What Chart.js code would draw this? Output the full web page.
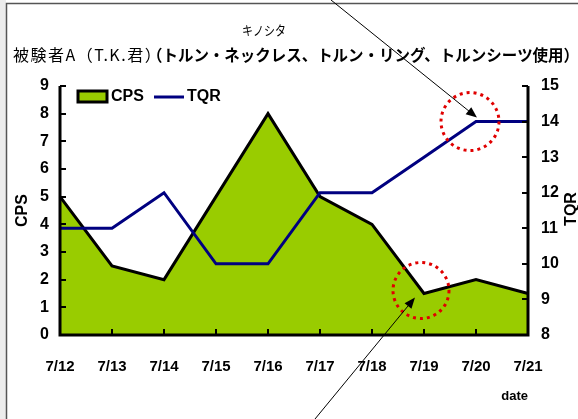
<!DOCTYPE html>
<html>
<head>
<meta charset="utf-8">
<script src="https://cdn.jsdelivr.net/npm/chart.js@4"></script>
<style>
  html, body { margin: 0; padding: 0; background: #fff; overflow: hidden; }
  #wrap { width: 578px; height: 419px; }
</style>
</head>
<body>
<div id="wrap"><canvas id="chart" width="578" height="419"></canvas></div>
<script>
// Data
const dates = ['7/12', '7/13', '7/14', '7/15', '7/16', '7/17', '7/18', '7/19', '7/20', '7/21'];
const cpsValues = [5, 2.5, 2, 5, 8, 5, 4, 1.5, 2, 1.5];
const tqrValues = [11, 11, 12, 10, 10, 12, 12, 13, 14, 14];

const titleTop = 'キノシタ';
const titleMain = '被験者A（T.K.君）';
const titleBold = '（トルン・ネックレス、トルン・リング、トルンシーツ使用）';

const JP = '"Noto Sans CJK JP", "Liberation Sans", sans-serif';
const LAT = '"Liberation Sans", Arial, sans-serif';

function arrow(ctx, x1, y1, x2, y2) {
    const a = Math.atan2(y2 - y1, x2 - x1);
    const len = 11, half = 4.5;
    ctx.save();
    ctx.strokeStyle = '#000';
    ctx.fillStyle = '#000';
    ctx.lineWidth = 1;
    ctx.beginPath();
    ctx.moveTo(x1, y1);
    ctx.lineTo(x2 - Math.cos(a) * len * 0.8, y2 - Math.sin(a) * len * 0.8);
    ctx.stroke();
    ctx.beginPath();
    ctx.moveTo(x2, y2);
    ctx.lineTo(x2 - Math.cos(a) * len - Math.sin(a) * half, y2 - Math.sin(a) * len + Math.cos(a) * half);
    ctx.lineTo(x2 - Math.cos(a) * len + Math.sin(a) * half, y2 - Math.sin(a) * len - Math.cos(a) * half);
    ctx.closePath();
    ctx.fill();
    ctx.restore();
}

function dottedCircle(ctx, x, y, r) {
    ctx.save();
    ctx.strokeStyle = '#e00000';
    ctx.lineWidth = 3;
    ctx.setLineDash([3, 4]);
    ctx.beginPath();
    ctx.arc(x, y, r, 0, Math.PI * 2);
    ctx.stroke();
    ctx.restore();
}

const decor = {
    id: 'decor',
    beforeDraw(chart) {
        const ctx = chart.ctx;
        ctx.save();
        ctx.fillStyle = '#fff';
        ctx.fillRect(0, 0, chart.width, chart.height);
        // sheet strip and frame
        ctx.fillStyle = '#ececec';
        ctx.fillRect(0, 0, 6, chart.height);
        ctx.strokeStyle = '#555';
        ctx.lineWidth = 1.5;
        ctx.beginPath();
        ctx.moveTo(6.5, chart.height);
        ctx.lineTo(6.5, 3.5);
        ctx.lineTo(chart.width, 3.5);
        ctx.stroke();

        // titles
        ctx.fillStyle = '#000';
        ctx.textBaseline = 'middle';
        ctx.textAlign = 'center';
        ctx.font = '13px ' + JP;
        ctx.fillText(titleTop, 264, 30, 44);
        ctx.textAlign = 'left';
        ctx.font = '16px ' + JP;
        ctx.letterSpacing = '1.5px';
        ctx.fillText(titleMain, 13, 55);
        ctx.letterSpacing = '0px';
        ctx.font = 'bold 16px ' + JP;
        ctx.fillText(titleBold, 147, 55, 432);

        // right axis title, reading bottom to top
        ctx.font = 'bold 16px ' + LAT;
        ctx.textAlign = 'center';
        ctx.translate(572, 209);
        ctx.rotate(-Math.PI / 2);
        ctx.fillText('TQR', 0, 0);
        ctx.restore();
    },
    afterDatasetsDraw(chart) {
        const ctx = chart.ctx;
        const area = chart.chartArea;
        const x = chart.scales.x, y = chart.scales.y, y1 = chart.scales.y1;
        ctx.save();
        ctx.strokeStyle = '#000';
        ctx.lineWidth = 2;
        ctx.beginPath();
        y.ticks.forEach((t, i) => {
            const py = Math.round(y.getPixelForTick(i));
            ctx.moveTo(area.left, py); ctx.lineTo(area.left + 6, py);
        });
        y1.ticks.forEach((t, i) => {
            const py = Math.round(y1.getPixelForTick(i));
            ctx.moveTo(area.right - 6, py); ctx.lineTo(area.right, py);
        });
        x.ticks.forEach((t, i) => {
            const px = Math.round(x.getPixelForTick(i));
            ctx.moveTo(px, area.bottom); ctx.lineTo(px, area.bottom - 6);
        });
        ctx.stroke();
        // axis frame lines
        ctx.lineWidth = 3;
        ctx.beginPath();
        ctx.moveTo(area.left, area.top);
        ctx.lineTo(area.left, area.bottom);
        ctx.lineTo(area.right, area.bottom);
        ctx.lineTo(area.right, area.top);
        ctx.stroke();

        // legend inside the plot, top left
        const [cps, tqr] = chart.data.datasets;
        const lx = area.left + 18, ly = area.top + 10;
        ctx.fillStyle = cps.backgroundColor;
        ctx.fillRect(lx, ly - 5, 29, 11);
        ctx.lineWidth = 3;
        ctx.strokeStyle = cps.borderColor;
        ctx.strokeRect(lx, ly - 5, 29, 11);
        ctx.strokeStyle = tqr.borderColor;
        ctx.beginPath();
        ctx.moveTo(lx + 76, ly + 1);
        ctx.lineTo(lx + 106, ly + 1);
        ctx.stroke();
        ctx.fillStyle = '#000';
        ctx.font = 'bold 16px ' + LAT;
        ctx.textBaseline = 'middle';
        ctx.textAlign = 'left';
        ctx.fillText(cps.label, lx + 33, ly + 1, 33);
        ctx.fillText(tqr.label, lx + 109, ly + 1, 37);
        ctx.restore();
    },
    afterDraw(chart) {
        const ctx = chart.ctx;
        const x = chart.scales.x, y = chart.scales.y, y1 = chart.scales.y1;
        // highlight TQR at 7/20 and CPS at 7/19
        const p1x = x.getPixelForValue(8), p1y = y1.getPixelForValue(tqrValues[8]);
        const p2x = x.getPixelForValue(7), p2y = y.getPixelForValue(cpsValues[7]);
        dottedCircle(ctx, p1x - 6, p1y, 29);
        dottedCircle(ctx, p2x - 3, p2y - 3, 28);
        arrow(ctx, 331, 0, p1x + 1, p1y - 4);
        arrow(ctx, 315, chart.height, p2x - 9, p2y + 4);
    }
};

new Chart(document.getElementById('chart'), {
    type: 'line',
    data: {
        labels: dates,
        datasets: [
            {
                label: 'CPS',
                data: cpsValues,
                yAxisID: 'y',
                fill: 'origin',
                backgroundColor: '#99cc00',
                borderColor: '#000',
                borderWidth: 3,
                pointRadius: 0,
                tension: 0,
                order: 1
            },
            {
                label: 'TQR',
                data: tqrValues,
                yAxisID: 'y1',
                fill: false,
                backgroundColor: '#000080',
                borderColor: '#000080',
                borderWidth: 3,
                pointRadius: 0,
                tension: 0,
                order: 0
            }
        ]
    },
    options: {
        responsive: false,
        animation: false,
        devicePixelRatio: 1,
        layout: { padding: { top: 86, left: 0, right: 0, bottom: 0 } },
        plugins: {
            title: { display: false },
            tooltip: { enabled: false },
            legend: { display: false }
        },
        scales: {
            x: {
                type: 'category',
                offset: false,
                grid: { display: false, drawTicks: false },
                border: { display: false },
                ticks: {
                    color: '#000',
                    padding: 23,
                    maxRotation: 0,
                    autoSkip: false,
                    font: { family: LAT, size: 15, weight: 'bold' }
                },
                title: {
                    display: true,
                    text: 'date',
                    align: 'end',
                    color: '#000',
                    font: { family: LAT, size: 13, weight: 'bold' },
                    padding: { top: 4, bottom: 15 }
                },
                afterFit(scale) { scale.height = 84; }
            },
            y: {
                position: 'left',
                min: 0,
                max: 9,
                grid: { display: false, drawTicks: false },
                border: { display: false },
                ticks: {
                    stepSize: 1,
                    color: '#000',
                    padding: 11,
                    font: { family: LAT, size: 16, weight: 'bold' }
                },
                title: {
                    display: true,
                    text: 'CPS',
                    color: '#000',
                    font: { family: LAT, size: 16, weight: 'bold', lineHeight: 1 },
                    padding: { top: 15, bottom: 0 }
                },
                afterFit(scale) { scale.width = 60; }
            },
            y1: {
                position: 'right',
                min: 8,
                max: 15,
                grid: { display: false, drawTicks: false },
                border: { display: false },
                ticks: {
                    stepSize: 1,
                    color: '#000',
                    padding: 13,
                    font: { family: LAT, size: 16, weight: 'bold' }
                },
                title: { display: false },
                afterFit(scale) { scale.width = 50; }
            }
        }
    },
    plugins: [decor]
});
</script>
</body>
</html>
